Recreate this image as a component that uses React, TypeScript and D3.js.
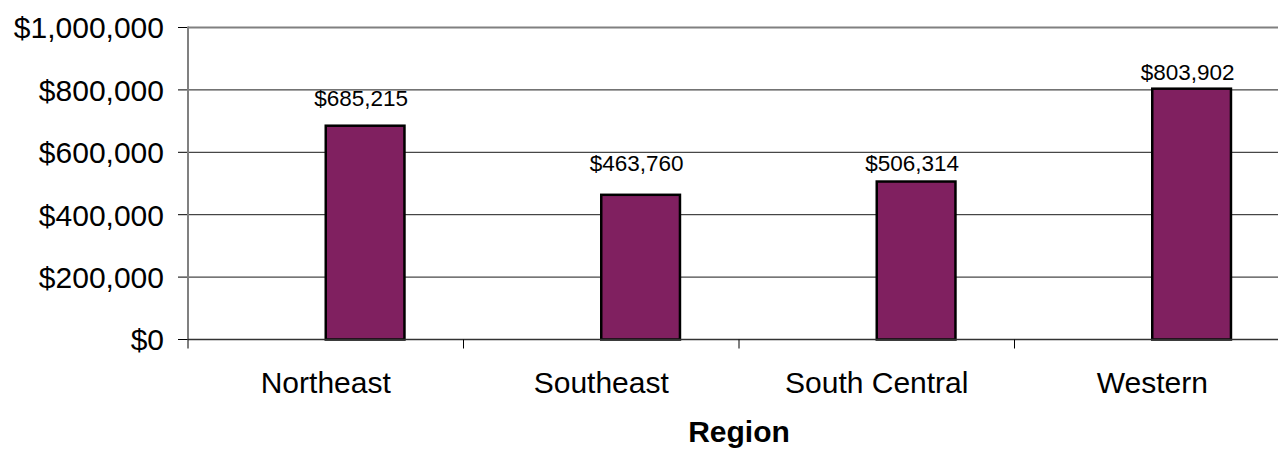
import React from "react";
import * as d3 from "d3";

const categories = ["Northeast", "Southeast", "South Central", "Western"];
const salesValues = [685215, 463760, 506314, 803902];
const yTicks = [0, 200000, 400000, 600000, 800000, 1000000];
const seriesKeys = ["blank", "sales"];
// label vertical gap above bar top (px), as positioned in the original
const labelGaps = [20, 24, 11, 9];

const W = 1278;
const H = 449;
const M = { left: 188, right: 1290, top: 27.5, bottom: 339.5 };
const FONT = "Arial, 'Liberation Sans', sans-serif";

export default function App() {
  const x = d3.scaleBand<string>().domain(categories).range([M.left, M.right]).padding(0);
  const xs = d3
    .scaleBand<string>()
    .domain(seriesKeys)
    .range([0, x.bandwidth()])
    .paddingInner(0)
    .paddingOuter(0.75);
  const y = d3.scaleLinear().domain([0, 1000000]).range([M.bottom, M.top]);
  const fmt = (v: number) => "$" + d3.format(",")(v);

  return (
    <svg
      width={W}
      height={H}
      style={{ position: "absolute", left: 0, top: 0, display: "block", background: "#fff" }}
      fontFamily={FONT}
    >
      {yTicks.map((t) => (
        <line
          key={"g" + t}
          x1={M.left}
          x2={M.right}
          y1={y(t)}
          y2={y(t)}
          stroke={t === 1000000 ? "#808080" : "#1a1a1a"}
          strokeWidth={t === 1000000 ? 2 : 1}
        />
      ))}
      {yTicks.map((t) => (
        <g key={"t" + t}>
          <line x1={M.left - 10} x2={M.left} y1={y(t)} y2={y(t)} stroke="#000" strokeWidth={1} />
          <text x={164} y={y(t)} dy="0.36em" textAnchor="end" fontSize={30} fill="#000">
            {fmt(t)}
          </text>
        </g>
      ))}
      {categories.map((c, i) => {
        const bx = (x(c) ?? 0) + (xs("sales") ?? 0);
        const by = y(salesValues[i]);
        return (
          <g key={c}>
            <rect
              x={bx}
              y={by}
              width={xs.bandwidth()}
              height={y(0) - by}
              fill="#802060"
              stroke="#000"
              strokeWidth={2.5}
            />
            <text
              x={bx + xs.bandwidth() / 2 - 4}
              y={by - labelGaps[i]}
              textAnchor="middle"
              fontSize={22.5}
              fill="#000"
            >
              {fmt(salesValues[i])}
            </text>
          </g>
        );
      })}
      <line x1={M.left} x2={M.left} y1={M.top - 1} y2={M.bottom} stroke="#808080" strokeWidth={2} />
      <line x1={M.left} x2={M.right} y1={M.bottom} y2={M.bottom} stroke="#333" strokeWidth={1.5} />
      {categories.map((c) => (
        <line
          key={"ct" + c}
          x1={x(c) ?? 0}
          x2={x(c) ?? 0}
          y1={M.bottom}
          y2={M.bottom + 9}
          stroke="#000"
          strokeWidth={1}
        />
      ))}
      {categories.map((c) => (
        <text
          key={"cl" + c}
          x={(x(c) ?? 0) + x.bandwidth() / 2}
          y={393}
          textAnchor="middle"
          fontSize={30}
          fill="#000"
        >
          {c}
        </text>
      ))}
      <text
        x={(M.left + M.right) / 2}
        y={442}
        textAnchor="middle"
        fontSize={30}
        fontWeight="bold"
        fill="#000"
      >
        Region
      </text>
    </svg>
  );
}
